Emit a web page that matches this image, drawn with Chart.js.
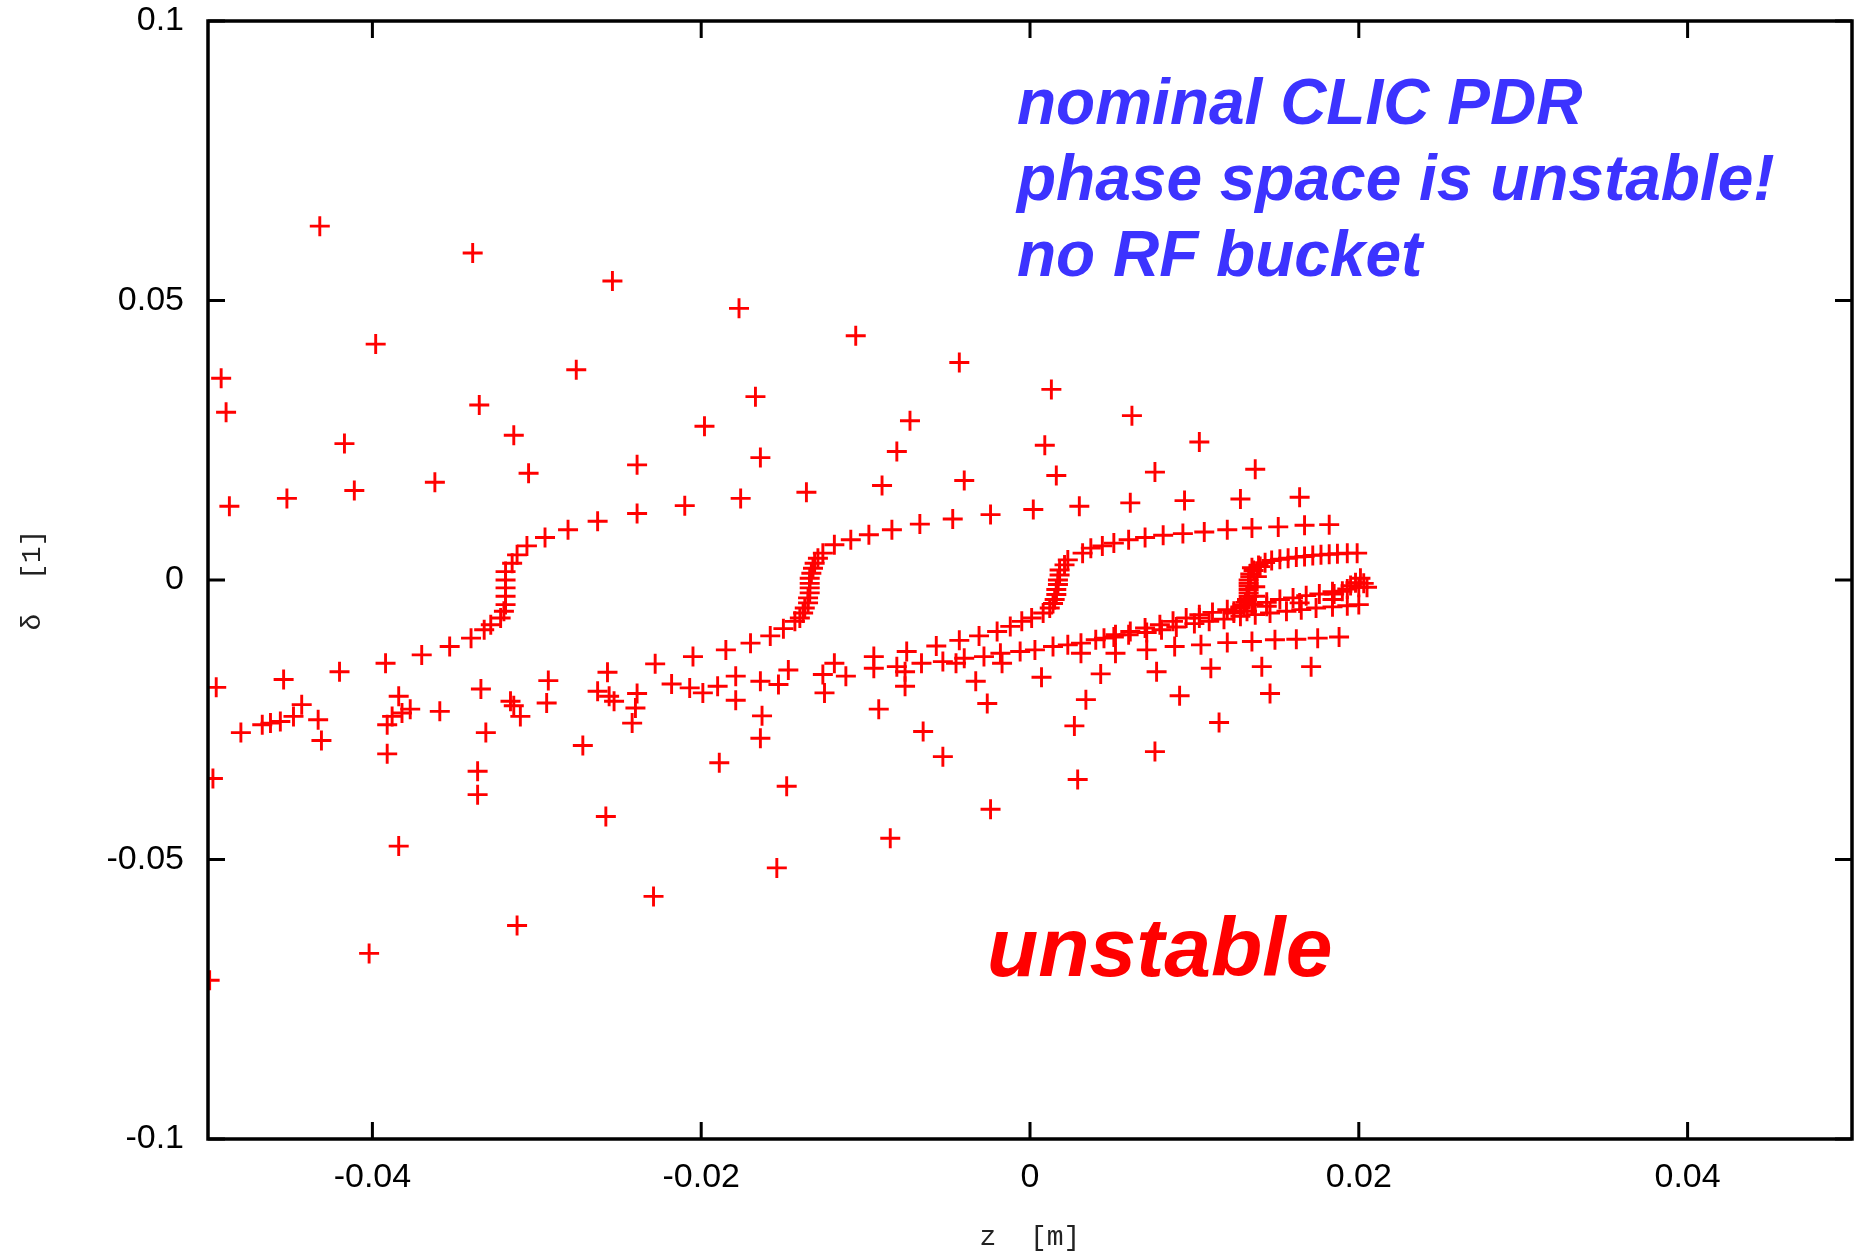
<!DOCTYPE html>
<html>
<head>
<meta charset="utf-8">
<script src="https://cdn.jsdelivr.net/npm/chart.js@4.4.1/dist/chart.umd.min.js"></script>
<style>
  html, body { margin: 0; padding: 0; background: #fff; }
</style>
</head>
<body>
<canvas id="phase" width="1865" height="1255"></canvas>
<script>
// tick values of both axes
var zTicks = [-0.04, -0.02, 0, 0.02, 0.04];
var deltaTicks = [-0.1, -0.05, 0, 0.05, 0.1];

// particles, [z, delta]
// scattered particles above the spiral arms
var outerUpper = [
    [-0.0432, 0.0633], [-0.0339, 0.0585], [-0.0254, 0.0535], [-0.0177, 0.0486], [-0.0398, 0.0422],
    [-0.0492, 0.0361], [-0.0276, 0.0376], [-0.0489, 0.0300], [-0.0335, 0.0313], [-0.0167, 0.0328],
    [-0.0314, 0.0259], [-0.0198, 0.0275], [-0.0417, 0.0244], [-0.0164, 0.0219], [-0.0305, 0.0191],
    [-0.0239, 0.0206], [-0.0362, 0.0175], [-0.0411, 0.0160], [-0.0452, 0.0146], [-0.0487, 0.0132],
    [-0.0106, 0.0437], [-0.0043, 0.0389], [0.0013, 0.0341], [0.0062, 0.0294], [-0.0073, 0.0285],
    [0.0103, 0.0247], [-0.0081, 0.0230], [0.0009, 0.0241], [0.0137, 0.0198], [0.0076, 0.0193],
    [0.0016, 0.0187], [-0.0040, 0.0178], [-0.0090, 0.0169], [0.0164, 0.0148], [0.0128, 0.0145],
    [0.0094, 0.0142]
];
// upper tails of the arms
var upperTails = [
    [-0.0176, 0.0146], [-0.0210, 0.0133], [-0.0239, 0.0119], [-0.0263, 0.0105], [-0.0281, 0.0090],
    [-0.0295, 0.0076], [-0.0306, 0.0061], [-0.0136, 0.0157],
    [0.0061, 0.0138], [0.0030, 0.0132], [0.0002, 0.0126], [-0.0024, 0.0117], [-0.0047, 0.0109],
    [-0.0067, 0.0100], [-0.0084, 0.0090], [-0.0098, 0.0081], [-0.0109, 0.0072], [-0.0119, 0.0063],
    [0.0182, 0.0099], [0.0167, 0.0098], [0.0151, 0.0095], [0.0135, 0.0093], [0.0120, 0.0090],
    [0.0106, 0.0086], [0.0093, 0.0083], [0.0081, 0.0080], [0.0070, 0.0076], [0.0060, 0.0072],
    [0.0051, 0.0066], [0.0044, 0.0061], [0.0037, 0.0057]
];
var arm1 = [
    [-0.0312, 0.0045], [-0.0315, 0.0030], [-0.0319, 0.0015], [-0.0319, 0.0000], [-0.0319, -0.0014],
    [-0.0319, -0.0029], [-0.0319, -0.0044], [-0.0320, -0.0056], [-0.0322, -0.0068], [-0.0328, -0.0080],
    [-0.0332, -0.0089], [-0.0340, -0.0104], [-0.0353, -0.0119], [-0.0370, -0.0134], [-0.0392, -0.0149],
    [-0.0420, -0.0164], [-0.0454, -0.0178], [-0.0495, -0.0192]
];
var arm2 = [
    [-0.0126, 0.0048], [-0.0129, 0.0039], [-0.0131, 0.0030], [-0.0132, 0.0021], [-0.0133, 0.0012],
    [-0.0134, 0.0003], [-0.0134, -0.0006], [-0.0134, -0.0014], [-0.0134, -0.0023], [-0.0135, -0.0032],
    [-0.0135, -0.0041], [-0.0137, -0.0050], [-0.0138, -0.0059], [-0.0140, -0.0068], [-0.0143, -0.0074],
    [-0.0150, -0.0087], [-0.0158, -0.0100], [-0.0170, -0.0113], [-0.0185, -0.0125], [-0.0205, -0.0137],
    [-0.0228, -0.0150], [-0.0257, -0.0165], [-0.0293, -0.0180], [-0.0334, -0.0195]
];
var arm3 = [
    [0.0032, 0.0048], [0.0023, 0.0036], [0.0021, 0.0027], [0.0018, 0.0018], [0.0018, 0.0009],
    [0.0017, 0.0000], [0.0017, -0.0008], [0.0016, -0.0017], [0.0016, -0.0026], [0.0015, -0.0035],
    [0.0014, -0.0042], [0.0012, -0.0050], [0.0008, -0.0059], [0.0001, -0.0068], [-0.0005, -0.0074],
    [-0.0012, -0.0083], [-0.0020, -0.0092], [-0.0031, -0.0100], [-0.0043, -0.0108], [-0.0057, -0.0118]
];
var arm4Upper = [
    [0.0199, 0.0048], [0.0193, 0.0048], [0.0187, 0.0047], [0.0182, 0.0046], [0.0177, 0.0045],
    [0.0172, 0.0044], [0.0167, 0.0042], [0.0162, 0.0041], [0.0157, 0.0039], [0.0152, 0.0037],
    [0.0147, 0.0035], [0.0143, 0.0031], [0.0139, 0.0026], [0.0136, 0.0017], [0.0134, 0.0006],
    [0.0133, -0.0006], [0.0133, -0.0017], [0.0133, -0.0029], [0.0131, -0.0040], [0.0128, -0.0050],
    [0.0124, -0.0059], [0.0140, 0.0024], [0.0138, 0.0006], [0.0137, -0.0012], [0.0137, -0.0029],
    [0.0135, -0.0044], [0.0132, -0.0056], [0.0135, 0.0022], [0.0134, 0.0011], [0.0133, 0.0000],
    [0.0133, -0.0011], [0.0133, -0.0023], [0.0132, -0.0035], [0.0130, -0.0045]
];
var arm4Lower = [
    [0.0045, -0.0104], [0.0052, -0.0098], [0.0061, -0.0092], [0.0070, -0.0086], [0.0079, -0.0080],
    [0.0087, -0.0074], [0.0095, -0.0068], [0.0103, -0.0062], [0.0111, -0.0058], [0.0120, -0.0053],
    [0.0128, -0.0048], [0.0136, -0.0044], [0.0144, -0.0040], [0.0152, -0.0035], [0.0160, -0.0032],
    [0.0168, -0.0028], [0.0176, -0.0025], [0.0184, -0.0021], [0.0193, -0.0016], [0.0200, -0.0013],
    [0.0203, -0.0006], [0.0201, 0.0003], [0.0205, -0.0013], [0.0195, -0.0010], [0.0198, -0.0005],
    [0.0190, -0.0020], [0.0185, -0.0025], [0.0184, -0.0035], [0.0164, -0.0041], [0.0144, -0.0047],
    [0.0124, -0.0056], [0.0103, -0.0068]
];
var lowerLine = [
    [-0.0095, -0.0158], [-0.0081, -0.0155], [-0.0066, -0.0149], [-0.0053, -0.0146], [-0.0040, -0.0140],
    [-0.0028, -0.0137], [-0.0018, -0.0131], [-0.0006, -0.0128], [0.0003, -0.0125], [0.0014, -0.0119],
    [0.0023, -0.0116], [0.0031, -0.0113], [0.0040, -0.0107], [0.0051, -0.0102], [0.0060, -0.0098],
    [0.0071, -0.0094], [0.0080, -0.0089], [0.0089, -0.0084], [0.0100, -0.0078], [0.0109, -0.0074],
    [0.0118, -0.0070], [0.0128, -0.0065], [0.0137, -0.0062], [0.0146, -0.0059], [0.0156, -0.0056],
    [0.0165, -0.0053], [0.0174, -0.0050], [0.0184, -0.0048], [0.0193, -0.0046], [0.0200, -0.0044],
    [0.0088, -0.0119], [0.0104, -0.0116], [0.0120, -0.0112], [0.0135, -0.0110], [0.0149, -0.0107],
    [0.0162, -0.0106], [0.0175, -0.0104], [0.0188, -0.0102]
];
// scattered particles below the arms
var outerLower = [
    [-0.0384, -0.0208], [-0.0388, -0.0244], [-0.0391, -0.0259], [-0.0382, -0.0238], [-0.0377, -0.0231],
    [-0.0443, -0.0223], [-0.0448, -0.0244], [-0.0456, -0.0253], [-0.0462, -0.0256], [-0.0467, -0.0259],
    [-0.0480, -0.0273], [-0.0433, -0.0250], [-0.0431, -0.0287], [-0.0359, -0.0235], [-0.0331, -0.0273],
    [-0.0316, -0.0217], [-0.0314, -0.0225], [-0.0310, -0.0244], [-0.0294, -0.0220], [-0.0272, -0.0296],
    [-0.0263, -0.0199], [-0.0256, -0.0208], [-0.0253, -0.0217], [-0.0239, -0.0203], [-0.0240, -0.0229],
    [-0.0242, -0.0256], [-0.0218, -0.0186], [-0.0207, -0.0193], [-0.0199, -0.0202], [-0.0190, -0.0190],
    [-0.0179, -0.0172], [-0.0179, -0.0215], [-0.0164, -0.0181], [-0.0153, -0.0187], [-0.0147, -0.0161],
    [-0.0163, -0.0243], [-0.0164, -0.0283], [-0.0189, -0.0327], [-0.0148, -0.0369], [-0.0258, -0.0423],
    [-0.0391, -0.0311], [-0.0336, -0.0342], [-0.0336, -0.0384], [-0.0497, -0.0355], [-0.0384, -0.0476],
    [-0.0154, -0.0515], [-0.0229, -0.0566], [-0.0312, -0.0618], [-0.0402, -0.0668], [-0.0499, -0.0716],
    [-0.0119, -0.0149], [-0.0126, -0.0169], [-0.0112, -0.0172], [-0.0125, -0.0202], [-0.0095, -0.0137],
    [-0.0076, -0.0164], [-0.0076, -0.0190], [-0.0075, -0.0128], [-0.0092, -0.0231], [-0.0065, -0.0271],
    [-0.0053, -0.0316], [-0.0033, -0.0181], [-0.0026, -0.0221], [0.0007, -0.0174], [0.0034, -0.0214],
    [0.0043, -0.0168], [0.0027, -0.0261], [0.0029, -0.0357], [-0.0024, -0.0410], [-0.0085, -0.0462],
    [0.0077, -0.0164], [0.0091, -0.0207], [0.0110, -0.0158], [0.0141, -0.0155], [0.0171, -0.0155],
    [0.0146, -0.0203], [0.0115, -0.0255], [0.0076, -0.0307], [0.0052, -0.0131], [0.0031, -0.0131],
    [0.0071, -0.0125], [-0.0045, -0.0149], [-0.0017, -0.0149]
];

var groups = [outerUpper, upperTails, arm1, arm2, arm3, arm4Upper, arm4Lower, lowerLine, outerLower];

var tickFont = { family: '"Liberation Sans", Arial, sans-serif', size: 34 };
var titleFont = { family: '"Liberation Mono", "Courier New", monospace', size: 28 };

// gnuplot-like border with inward ticks on every side
var borderTicks = {
    id: 'borderTicks',
    afterDatasetsDraw: function (chart) {
        var ctx = chart.ctx, a = chart.chartArea;
        var xs = chart.scales.x, ys = chart.scales.y;
        var len = 17;
        ctx.save();
        ctx.strokeStyle = '#000';
        ctx.lineWidth = 3;
        ctx.beginPath();
        zTicks.forEach(function (v) {
            var px = xs.getPixelForValue(v);
            ctx.moveTo(px, a.bottom); ctx.lineTo(px, a.bottom - len);
            ctx.moveTo(px, a.top); ctx.lineTo(px, a.top + len);
        });
        deltaTicks.forEach(function (v) {
            var py = ys.getPixelForValue(v);
            ctx.moveTo(a.left, py); ctx.lineTo(a.left + len, py);
            ctx.moveTo(a.right, py); ctx.lineTo(a.right - len, py);
        });
        ctx.stroke();
        ctx.lineWidth = 3.5;
        ctx.strokeRect(a.left, a.top, a.right - a.left, a.bottom - a.top);
        ctx.restore();
    }
};

// slide notes written over the plot
var notes = {
    id: 'notes',
    afterDraw: function (chart) {
        var ctx = chart.ctx;
        ctx.save();
        ctx.textAlign = 'left';
        ctx.textBaseline = 'alphabetic';
        ctx.fillStyle = '#3c33ff';
        ctx.font = 'italic bold 64px "Liberation Sans", Arial, sans-serif';
        ctx.fillText('nominal CLIC PDR', 1017, 124);
        ctx.fillText('phase space is unstable!', 1017, 200);
        ctx.fillText('no RF bucket', 1017, 276);
        ctx.fillStyle = '#ff0000';
        ctx.font = 'italic bold 84px "Liberation Sans", Arial, sans-serif';
        ctx.fillText('unstable', 987, 976);
        ctx.restore();
    }
};

var tickLabel = function (v) { return String(parseFloat(Number(v).toFixed(4))); };

var phaseChart = new Chart(document.getElementById('phase'), {
    type: 'scatter',
    data: {
        datasets: groups.map(function (g) {
            return {
                data: g.map(function (p) { return { x: p[0], y: p[1] }; }),
                pointStyle: 'cross',
                pointRadius: 10,
                pointBorderWidth: 2.9,
                borderColor: '#ff0000',
                backgroundColor: '#ff0000',
                showLine: false
            };
        })
    },
    options: {
        responsive: false,
        animation: false,
        events: [],
        layout: { padding: { top: 21, right: 13, left: 0, bottom: 0 } },
        plugins: { legend: { display: false }, tooltip: { enabled: false } },
        scales: {
            x: {
                type: 'linear',
                min: -0.05,
                max: 0.05,
                afterBuildTicks: function (s) { s.ticks = zTicks.map(function (v) { return { value: v }; }); },
                afterFit: function (s) { s.height = 116; s.paddingLeft = 0; s.paddingRight = 0; },
                grid: { display: false, drawTicks: false },
                border: { display: false },
                ticks: { font: tickFont, color: '#000', padding: 18, maxRotation: 0, callback: tickLabel },
                title: { display: true, text: 'z  [m]', font: titleFont, color: '#222', padding: { top: 0, bottom: 1 } }
            },
            y: {
                type: 'linear',
                min: -0.1,
                max: 0.1,
                afterBuildTicks: function (s) { s.ticks = deltaTicks.map(function (v) { return { value: v }; }); },
                afterFit: function (s) { s.width = 208; s.paddingTop = 0; s.paddingBottom = 0; },
                grid: { display: false, drawTicks: false },
                border: { display: false },
                ticks: { font: tickFont, color: '#000', padding: 24, callback: tickLabel },
                title: { display: true, text: 'δ  [1]', font: titleFont, color: '#222', padding: { top: 16, bottom: 0 } }
            }
        }
    },
    plugins: [borderTicks, notes]
});
</script>
</body>
</html>
